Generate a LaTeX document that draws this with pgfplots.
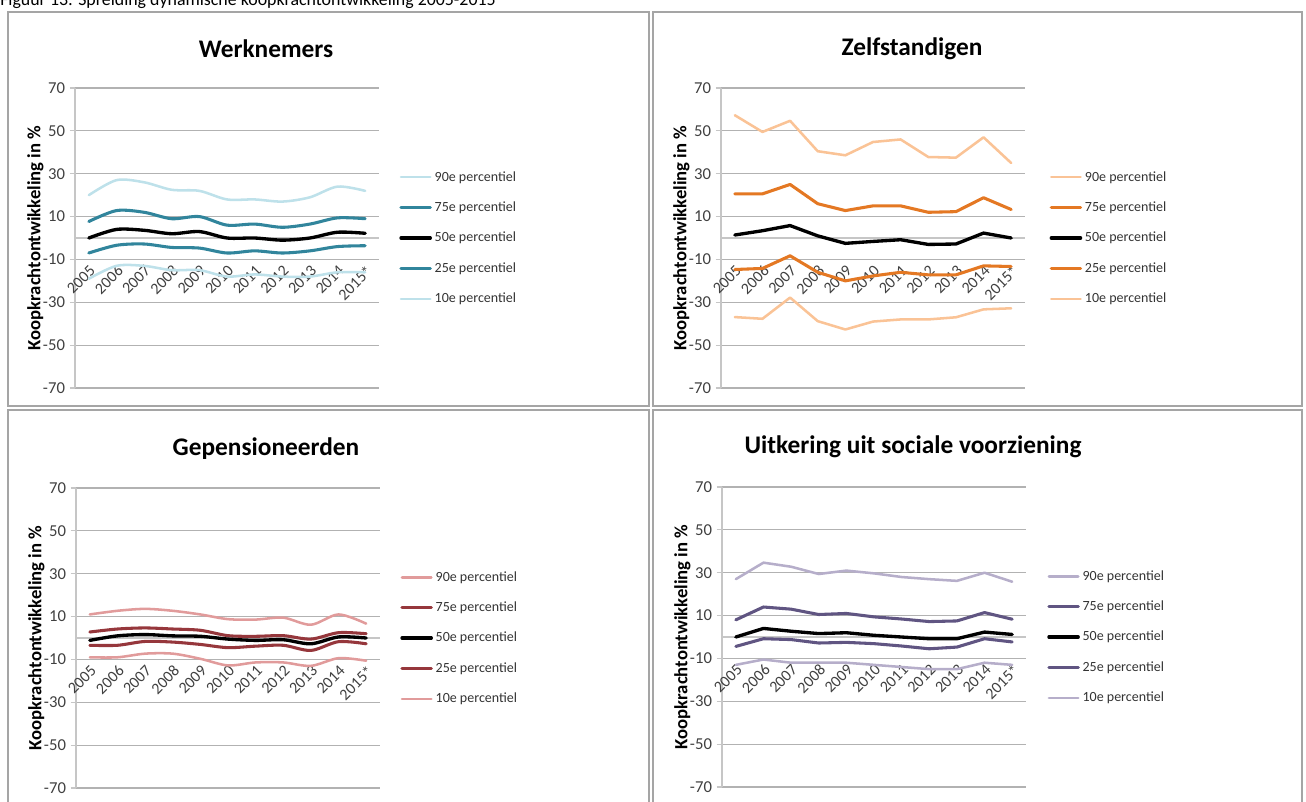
\documentclass[border=0pt]{standalone}
\usepackage{fontspec}
\setmainfont{Carlito}
\usepackage{pgfplots}
\pgfplotsset{compat=1.18}

\definecolor{wlight}{RGB}{190,225,234}
\definecolor{wdark}{RGB}{49,133,156}
\definecolor{zlight}{RGB}{250,195,150}
\definecolor{zdark}{RGB}{228,120,35}
\definecolor{glight}{RGB}{225,155,155}
\definecolor{gdark}{RGB}{150,55,60}
\definecolor{ulight}{RGB}{182,174,202}
\definecolor{udark}{RGB}{96,85,130}
\definecolor{frame}{RGB}{165,165,165}

\pgfplotsset{
  panel/.style={
    scale only axis, width=228pt, height=225pt,
    xmin=-0.5, xmax=10.5, ymin=-70, ymax=70,
    axis x line=middle, axis y line=left,
    axis line style={draw=gray!45, line width=0.8pt, -},
    ytick={-70,-50,-30,-10,10,30,50,70},
    yticklabels={-70,-50,-30,-10,10,30,50,70},
    ymajorgrids, grid style={gray!60, line width=0.8pt},
    xtick={0,...,10},
    xticklabels={2005,2006,2007,2008,2009,2010,2011,2012,2013,2014,2015*},
    xtick style={draw=none},
    ytick style={draw=gray!45, line width=0.8pt},
    tick align=outside, major tick length=4pt,
    xticklabel style={rotate=45, anchor=north east, inner sep=1pt,
      font=\fontsize{12}{12}\selectfont, text=black!75, yshift=-10pt, xshift=-10pt},
    yticklabel style={font=\fontsize{12.5}{12}\selectfont, text=black!75},
    ylabel={\bfseries Koopkrachtontwikkeling in \%},
    ylabel style={at={(axis description cs:-0.13,0.5)}, anchor=center,
      rotate=0, font=\fontsize{14}{14}\selectfont},
    legend style={draw=none, fill=none, at={(1.066,0.5)}, anchor=west,
      font=\fontsize{10.5}{12}\selectfont, text=black!80, row sep=10pt,
      inner sep=0pt},
    legend cell align=left,
    legend image code/.code={\draw[##1] (0pt,0pt) -- (22pt,0pt);},
    every axis plot/.append style={line join=round, line cap=round},
    clip=false,
  },
  p90/.style={line width=1.9pt},
  p75/.style={line width=2.3pt},
  p50/.style={line width=2.5pt, black},
}

\begin{document}
\begin{tikzpicture}
\path[use as bounding box] (0,0) rectangle (979.5pt,600.75pt);

% caption, mostly above the page
\node[anchor=base west, inner sep=0pt, font=\fontsize{13.4}{15}\selectfont]
  at (0pt,596.25pt) {Figuur 13: Spreiding dynamische koopkrachtontwikkeling 2005-2015};

% panel frames
\draw[frame, line width=1.2pt] (6pt,591.75pt) rectangle (486.75pt,296.25pt);
\draw[frame, line width=1.2pt] (489.75pt,591.75pt) rectangle (976.5pt,296.25pt);
\draw[frame, line width=1.2pt] (6pt,293.25pt) rectangle (486.75pt,-10pt);
\draw[frame, line width=1.2pt] (489.75pt,293.25pt) rectangle (976.5pt,-10pt);

% titles
\node[font=\bfseries\fontsize{19}{22}\selectfont] at (199.5pt,564pt) {Werknemers};
\node[font=\bfseries\fontsize{19}{22}\selectfont] at (684pt,564pt) {Zelfstandigen};
\node[font=\bfseries\fontsize{19}{22}\selectfont] at (199.5pt,264pt) {Gepensioneerden};
\node[font=\bfseries\fontsize{19}{22}\selectfont] at (684.75pt,265.5pt) {Uitkering uit sociale voorziening};

% Werknemers
\begin{axis}[panel, at={(56.25pt,309.75pt)}, anchor=south west]
\addplot[p90, wlight, smooth] coordinates {(0,20) (1,27) (2,26) (3,22.5) (4,22) (5,18) (6,18) (7,17) (8,19) (9,24) (10,22)};
\addlegendentry{90e percentiel}
\addplot[p75, wdark, smooth] coordinates {(0,7.7) (1,12.8) (2,12) (3,9) (4,10) (5,6) (6,6.5) (7,5) (8,6.5) (9,9.4) (10,9)};
\addlegendentry{75e percentiel}
\addplot[p50, smooth] coordinates {(0,0) (1,4) (2,3.6) (3,2) (4,3) (5,0) (6,0) (7,-1) (8,0) (9,2.7) (10,2.2)};
\addlegendentry{50e percentiel}
\addplot[p75, wdark, smooth] coordinates {(0,-7) (1,-3.4) (2,-2.8) (3,-4.4) (4,-4.7) (5,-7) (6,-6) (7,-7) (8,-6) (9,-4) (10,-3.6)};
\addlegendentry{25e percentiel}
\addplot[p90, wlight, smooth] coordinates {(0,-19) (1,-13) (2,-13) (3,-15) (4,-15) (5,-18) (6,-17) (7,-18) (8,-18) (9,-16) (10,-16)};
\addlegendentry{10e percentiel}
\end{axis}

% Zelfstandigen
\begin{axis}[panel, at={(540.75pt,309.75pt)}, anchor=south west,
  legend style={at={(1.08,0.5)}}]
\addplot[p90, zlight] coordinates {(0,57.3) (1,49.5) (2,54.7) (3,40.5) (4,38.6) (5,44.8) (6,46) (7,37.8) (8,37.5) (9,47) (10,35)};
\addlegendentry{90e percentiel}
\addplot[p75, zdark] coordinates {(0,20.6) (1,20.6) (2,25) (3,16) (4,12.8) (5,15) (6,15) (7,12) (8,12.3) (9,18.8) (10,13.3)};
\addlegendentry{75e percentiel}
\addplot[p50] coordinates {(0,1.4) (1,3.4) (2,5.8) (3,1) (4,-2.5) (5,-1.6) (6,-0.8) (7,-3) (8,-2.8) (9,2.3) (10,0)};
\addlegendentry{50e percentiel}
\addplot[p75, zdark] coordinates {(0,-14.7) (1,-14.2) (2,-8.3) (3,-16) (4,-20) (5,-17.7) (6,-16) (7,-17.2) (8,-17.2) (9,-13) (10,-13.3)};
\addlegendentry{25e percentiel}
\addplot[p90, zlight] coordinates {(0,-36.9) (1,-37.7) (2,-27.8) (3,-38.8) (4,-42.7) (5,-39) (6,-38) (7,-38) (8,-37) (9,-33.3) (10,-32.8)};
\addlegendentry{10e percentiel}
\end{axis}

% Gepensioneerden
\begin{axis}[panel, at={(57pt,9.75pt)}, anchor=south west]
\addplot[p90, glight, smooth] coordinates {(0,11) (1,12.7) (2,13.6) (3,12.7) (4,11) (5,8.8) (6,8.6) (7,9.5) (8,6.2) (9,11) (10,6.7)};
\addlegendentry{90e percentiel}
\addplot[p75, gdark, smooth] coordinates {(0,2.8) (1,4.2) (2,4.7) (3,4.2) (4,3.6) (5,1.1) (6,0.8) (7,1.1) (8,-0.5) (9,2.5) (10,2)};
\addlegendentry{75e percentiel}
\addplot[p50, smooth] coordinates {(0,-1.1) (1,1) (2,1.6) (3,1) (4,0.8) (5,-0.5) (6,-1.1) (7,-0.8) (8,-2.7) (9,0.5) (10,0)};
\addlegendentry{50e percentiel}
\addplot[p75, gdark, smooth] coordinates {(0,-3.4) (1,-3.4) (2,-1.6) (3,-1.9) (4,-3) (5,-4.5) (6,-3.8) (7,-3.4) (8,-5.8) (9,-1.7) (10,-2.7)};
\addlegendentry{25e percentiel}
\addplot[p90, glight, smooth] coordinates {(0,-9) (1,-9) (2,-7.3) (3,-7.3) (4,-9.7) (5,-12.8) (6,-11.4) (7,-11.4) (8,-13) (9,-9.4) (10,-10.6)};
\addlegendentry{10e percentiel}
\end{axis}

% Uitkering uit sociale voorziening
\begin{axis}[panel, at={(541.5pt,10.5pt)}, anchor=south west,
  legend style={at={(1.069,0.5)}}]
\addplot[p90, ulight] coordinates {(0,27) (1,34.7) (2,32.8) (3,29.4) (4,31) (5,29.7) (6,28) (7,27) (8,26.2) (9,30) (10,25.8)};
\addlegendentry{90e percentiel}
\addplot[p75, udark] coordinates {(0,8) (1,14) (2,13) (3,10.5) (4,11) (5,9.4) (6,8.4) (7,7.2) (8,7.5) (9,11.4) (10,8.3)};
\addlegendentry{75e percentiel}
\addplot[p50] coordinates {(0,0) (1,4) (2,2.7) (3,1.6) (4,2) (5,0.8) (6,0) (7,-0.8) (8,-0.8) (9,2.3) (10,1.2)};
\addlegendentry{50e percentiel}
\addplot[p75, udark] coordinates {(0,-4.4) (1,-0.8) (2,-1.2) (3,-2.8) (4,-2.5) (5,-3.1) (6,-4.2) (7,-5.5) (8,-4.7) (9,-0.8) (10,-2.3)};
\addlegendentry{25e percentiel}
\addplot[p90, ulight] coordinates {(0,-13) (1,-10.5) (2,-12) (3,-12) (4,-12) (5,-13) (6,-14) (7,-15) (8,-15) (9,-12) (10,-13)};
\addlegendentry{10e percentiel}
\end{axis}
\end{tikzpicture}
\end{document}
